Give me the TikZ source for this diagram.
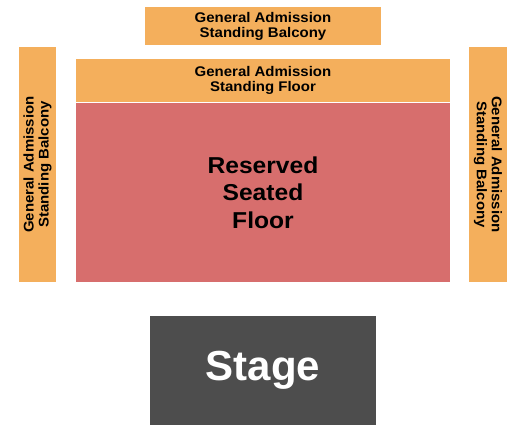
\documentclass[tikz,border=0pt]{standalone}
\usepackage{fontspec}
\setmainfont{Liberation Sans}
\newfontfamily\widesans[FakeStretch=1.07]{Liberation Sans}
\definecolor{gaorange}{HTML}{F4AF5C}
\definecolor{seatred}{HTML}{D76E6D}
\definecolor{stagegray}{HTML}{4D4D4D}
\tikzset{
  section/.style={rectangle, inner sep=0pt, align=center, font=\widesans\bfseries\fontsize{14}{15}\selectfont},
  gabox/.style={section, fill=gaorange},
  seatbox/.style={section, fill=seatred, font=\widesans\bfseries\fontsize{23}{27.5}\selectfont},
  stagebox/.style={section, fill=stagegray, text=white, font=\bfseries\fontsize{42}{46}\selectfont}
}
\begin{document}
\begin{tikzpicture}[x=1pt, y=-1pt]
    \useasboundingbox (0,0) rectangle (525,430);

    % Balcony above the floor
    \node[gabox, minimum width=236pt, minimum height=38pt] (topbalcony) at (263,26)
        {General Admission\\Standing Balcony};

    % Standing floor and seated floor
    \node[gabox, minimum width=374pt, minimum height=42.5pt] (standfloor) at (263,80.3)
        {General Admission\\Standing Floor};
    \node[seatbox, minimum width=374pt, minimum height=179.3pt] (seatfloor) at (263,192.4)
        {Reserved\\Seated\\Floor};

    % Side balconies
    \node[gabox, rotate=90, minimum width=235pt, minimum height=37pt] (leftbalcony) at (37.5,164.5)
        {General Admission\\Standing Balcony};
    \node[gabox, rotate=-90, minimum width=235pt, minimum height=38pt] (rightbalcony) at (488,164.5)
        {General Admission\\Standing Balcony};

    % Stage
    \node[stagebox, minimum width=226pt, minimum height=109pt] (stage) at (263,370.5) {Stage};
\end{tikzpicture}
\end{document}
